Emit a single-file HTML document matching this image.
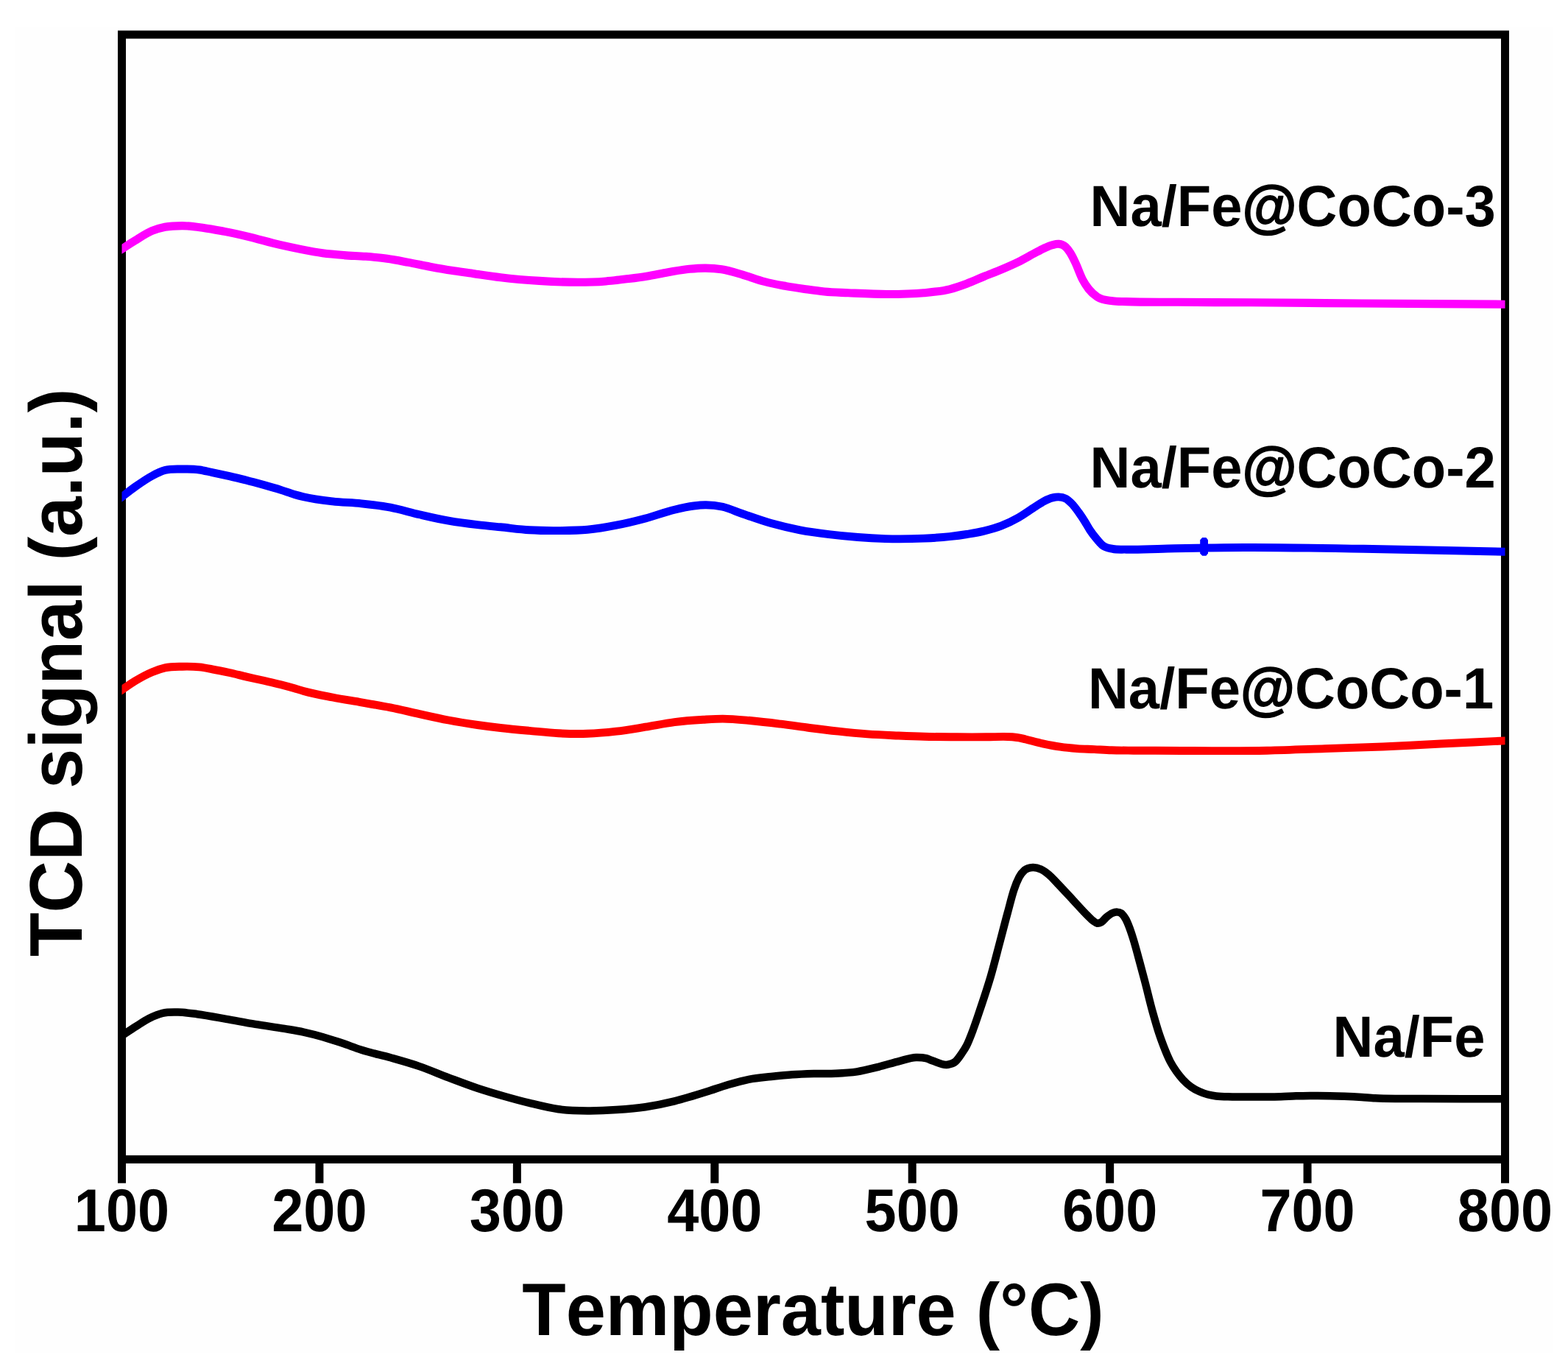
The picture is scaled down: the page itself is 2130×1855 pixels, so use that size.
<!DOCTYPE html>
<html lang="en"><head><meta charset="utf-8"><title>TCD signal vs Temperature</title>
<style>html,body{margin:0;padding:0;background:#fff}body{width:2130px;height:1855px;overflow:hidden}svg{display:block}text{font-family:"Liberation Sans", Arial, Helvetica, sans-serif;font-weight:bold;fill:#000;font-kerning:none;font-variant-ligatures:none;text-rendering:geometricPrecision}</style></head><body>
<svg width="2130" height="1855" viewBox="0 0 2130 1855">
<defs><clipPath id="plot"><rect x="165.5" y="41.5" width="1879.0" height="1538.4"/></clipPath></defs>
<rect width="2130" height="1855" fill="#fff"/>
<rect x="21" y="36" width="2089" height="1801" fill="#fefefe"/>
<rect x="165.5" y="47" width="1879.0" height="1527.4" fill="none" stroke="#000" stroke-width="11"/>
<rect x="160.00" y="1574.4" width="11" height="32.3" fill="#000"/>
<rect x="428.43" y="1574.4" width="11" height="32.3" fill="#000"/>
<rect x="696.86" y="1574.4" width="11" height="32.3" fill="#000"/>
<rect x="965.29" y="1574.4" width="11" height="32.3" fill="#000"/>
<rect x="1233.71" y="1574.4" width="11" height="32.3" fill="#000"/>
<rect x="1502.14" y="1574.4" width="11" height="32.3" fill="#000"/>
<rect x="1770.57" y="1574.4" width="11" height="32.3" fill="#000"/>
<rect x="2039.00" y="1574.4" width="11" height="32.3" fill="#000"/>
<g clip-path="url(#plot)" fill="none" stroke-linejoin="round">
<path d="M157.5,1411.8C160.2,1410.0 162.8,1408.3 165.5,1406.5C171.7,1402.4 177.8,1398.2 184.0,1394.3C190.2,1390.4 196.3,1386.1 202.5,1383.0C208.6,1380.0 214.7,1377.3 220.8,1375.9C227.8,1374.2 234.8,1374.5 241.8,1374.6C250.5,1374.7 259.3,1376.1 268.0,1377.2C281.1,1378.9 294.3,1381.5 307.4,1383.8C320.5,1386.1 333.7,1388.7 346.8,1390.9C359.9,1393.1 373.1,1394.7 386.2,1396.9C394.9,1398.4 403.7,1399.7 412.4,1401.6C421.1,1403.5 429.9,1405.7 438.6,1408.2C447.4,1410.7 456.1,1413.7 464.9,1416.6C473.6,1419.5 482.3,1423.0 491.0,1425.8C504.2,1430.0 517.3,1432.6 530.5,1436.3C543.6,1440.0 556.7,1443.6 569.8,1448.1C582.9,1452.6 596.1,1458.4 609.2,1463.3C622.3,1468.2 635.5,1473.3 648.6,1477.7C660.7,1481.7 672.9,1485.3 685.0,1488.7C696.5,1492.0 707.9,1495.1 719.4,1497.9C732.5,1501.1 745.6,1504.5 758.7,1506.3C771.8,1508.0 784.9,1508.3 798.0,1508.4C811.1,1508.5 824.3,1508.0 837.4,1507.1C850.5,1506.2 863.7,1505.2 876.8,1503.2C889.9,1501.2 903.1,1498.5 916.2,1495.3C930.8,1491.8 945.4,1487.2 960.0,1482.6C969.7,1479.6 979.5,1475.8 989.2,1473.0C998.9,1470.2 1008.6,1467.4 1018.3,1465.6C1028.0,1463.8 1037.8,1463.1 1047.5,1462.0C1057.2,1461.0 1066.9,1460.0 1076.6,1459.3C1086.3,1458.6 1096.1,1458.3 1105.8,1458.0C1115.5,1457.7 1125.2,1458.1 1134.9,1457.7C1144.6,1457.3 1154.4,1456.9 1164.1,1455.4C1173.8,1453.9 1183.6,1451.2 1193.3,1448.8C1203.0,1446.4 1212.7,1443.2 1222.4,1440.8C1229.7,1439.0 1237.0,1436.2 1244.3,1436.0C1248.9,1435.9 1253.4,1436.0 1258.0,1437.2C1261.0,1438.0 1264.0,1439.5 1267.0,1440.5C1273.7,1442.7 1280.3,1446.9 1287.0,1445.8C1290.7,1445.2 1294.3,1444.8 1298.0,1441.5C1300.8,1438.9 1303.7,1434.7 1306.5,1430.5C1308.7,1427.3 1310.8,1424.3 1313.0,1420.0C1316.0,1414.1 1319.0,1406.0 1322.0,1398.0C1325.7,1388.3 1329.3,1377.0 1333.0,1366.0C1337.3,1353.2 1341.5,1340.7 1345.8,1326.0C1349.6,1312.8 1353.5,1297.4 1357.3,1283.0C1361.2,1268.4 1365.0,1253.2 1368.9,1239.0C1371.8,1228.4 1374.6,1216.5 1377.5,1208.0C1379.8,1201.1 1382.2,1195.4 1384.5,1191.0C1387.0,1186.3 1389.5,1183.7 1392.0,1181.5C1395.7,1178.3 1399.3,1178.1 1403.0,1177.9C1406.7,1177.7 1410.3,1178.8 1414.0,1180.5C1417.7,1182.2 1421.3,1184.9 1425.0,1188.0C1428.8,1191.2 1432.5,1195.6 1436.3,1199.5C1443.7,1207.2 1451.2,1215.4 1458.6,1223.3C1464.7,1229.9 1470.9,1237.0 1477.0,1243.0C1479.7,1245.6 1482.3,1248.6 1485.0,1250.5C1486.8,1251.8 1488.7,1253.4 1490.5,1253.7C1492.3,1254.0 1494.2,1253.3 1496.0,1252.3C1498.3,1251.0 1500.7,1247.5 1503.0,1245.5C1505.7,1243.3 1508.3,1241.1 1511.0,1240.0C1513.3,1239.0 1515.7,1238.3 1518.0,1238.6C1520.0,1238.8 1522.0,1239.2 1524.0,1241.0C1525.8,1242.7 1527.7,1245.0 1529.5,1248.5C1531.0,1251.3 1532.5,1255.1 1534.0,1259.0C1536.0,1264.2 1538.0,1270.5 1540.0,1277.0C1542.5,1285.2 1545.0,1294.8 1547.5,1304.0C1550.0,1313.2 1552.5,1322.5 1555.0,1332.0C1558.7,1346.0 1562.3,1361.8 1566.0,1375.0C1568.7,1384.6 1571.3,1393.8 1574.0,1402.0C1576.3,1409.1 1578.7,1415.5 1581.0,1421.5C1583.9,1429.0 1586.8,1435.9 1589.7,1441.6C1592.5,1447.0 1595.2,1451.0 1598.0,1455.0C1601.0,1459.3 1604.0,1462.9 1607.0,1466.2C1610.7,1470.2 1614.3,1473.3 1618.0,1476.0C1621.8,1478.7 1625.5,1480.6 1629.3,1482.3C1633.0,1484.0 1636.7,1485.3 1640.4,1486.3C1644.3,1487.4 1648.1,1488.0 1652.0,1488.5C1659.3,1489.5 1666.7,1489.2 1674.0,1489.4C1686.0,1489.7 1698.0,1489.4 1710.0,1489.4C1720.0,1489.4 1730.0,1489.5 1740.0,1489.2C1746.9,1489.0 1753.7,1488.5 1760.6,1488.3C1770.4,1488.0 1780.2,1487.9 1790.0,1487.9C1802.1,1487.9 1814.1,1488.3 1826.2,1488.8C1834.1,1489.1 1842.1,1489.5 1850.0,1490.0C1856.0,1490.4 1862.0,1491.0 1868.0,1491.3C1878.7,1491.9 1889.3,1491.9 1900.0,1492.0C1910.3,1492.1 1920.7,1492.1 1931.0,1492.1C1968.8,1492.2 2006.7,1492.2 2044.5,1492.3C2047.2,1492.3 2049.8,1492.3 2052.5,1492.3" stroke="#000" stroke-width="10.5"/>
<path d="M157.5,942.3C160.2,940.5 162.8,938.7 165.5,936.9C171.4,932.9 177.4,928.5 183.3,924.9C191.1,920.2 198.8,915.9 206.6,912.7C212.4,910.3 218.3,908.2 224.1,906.9C231.9,905.2 239.7,905.4 247.5,905.2C255.3,905.0 263.0,905.1 270.8,905.9C276.6,906.5 282.5,907.7 288.3,908.8C296.1,910.2 303.8,911.8 311.6,913.5C319.4,915.2 327.1,917.3 334.9,919.1C342.7,920.9 350.5,922.5 358.3,924.3C366.1,926.1 373.8,927.8 381.6,929.8C387.7,931.4 393.9,933.1 400.0,934.8C404.1,936.0 408.3,937.3 412.4,938.4C425.5,942.0 438.7,944.4 451.8,947.0C464.9,949.6 477.9,951.5 491.0,953.8C504.2,956.1 517.3,958.3 530.5,960.9C543.6,963.5 556.7,966.8 569.8,969.6C582.9,972.5 596.1,975.5 609.2,978.0C622.3,980.5 635.5,982.6 648.6,984.5C659.1,986.0 669.5,987.3 680.0,988.5C693.1,990.0 706.3,991.2 719.4,992.4C732.5,993.6 745.6,995.1 758.7,995.8C771.8,996.4 784.9,996.7 798.0,996.3C811.1,995.9 824.3,994.7 837.4,993.2C850.5,991.7 863.7,989.3 876.8,987.2C889.9,985.1 903.1,982.3 916.2,980.6C929.3,978.9 942.4,978.0 955.5,977.2C964.3,976.7 973.0,976.1 981.8,976.1C994.9,976.1 1007.9,977.6 1021.0,978.8C1034.2,980.0 1047.3,981.6 1060.5,983.2C1073.6,984.8 1086.7,986.8 1099.8,988.5C1112.9,990.2 1126.1,991.8 1139.2,993.2C1152.3,994.6 1165.5,995.9 1178.6,996.9C1192.4,997.9 1206.2,998.4 1220.0,999.0C1231.7,999.5 1243.3,1000.0 1255.0,1000.3C1270.0,1000.7 1285.0,1000.7 1300.0,1000.8C1313.3,1000.9 1326.7,1000.8 1340.0,1000.8C1351.7,1000.8 1363.3,999.8 1375.0,1000.8C1378.0,1001.1 1381.0,1001.3 1384.0,1001.8C1387.1,1002.3 1390.2,1003.3 1393.3,1004.0C1401.1,1005.9 1408.8,1008.1 1416.6,1009.8C1424.4,1011.5 1432.2,1013.1 1440.0,1014.2C1447.8,1015.3 1455.5,1016.0 1463.3,1016.6C1471.1,1017.2 1478.8,1017.2 1486.6,1017.6C1494.4,1018.0 1502.2,1018.5 1510.0,1018.8C1520.0,1019.1 1530.0,1019.1 1540.0,1019.2C1549.9,1019.3 1559.9,1019.2 1569.8,1019.2C1620.3,1019.2 1670.7,1020.3 1721.2,1019.2C1747.5,1018.6 1773.7,1017.5 1800.0,1016.6C1826.2,1015.7 1852.4,1015.1 1878.6,1014.0C1904.9,1012.9 1931.1,1011.3 1957.4,1010.0C1986.4,1008.6 2015.5,1007.3 2044.5,1005.9C2047.2,1005.8 2049.8,1005.6 2052.5,1005.5" stroke="#f00" stroke-width="10.9"/>
<path d="M157.5,680.9C160.2,678.8 162.8,676.8 165.5,674.8C171.4,670.3 177.4,665.5 183.3,661.3C191.1,655.8 198.8,650.3 206.6,646.2C212.4,643.1 218.3,640.2 224.1,638.6C231.9,636.4 239.7,637.1 247.5,637.0C255.3,636.9 263.0,636.9 270.8,638.0C276.6,638.8 282.5,640.5 288.3,641.7C296.1,643.4 303.8,645.0 311.6,646.7C319.4,648.5 327.1,650.2 334.9,652.2C342.7,654.2 350.5,656.4 358.3,658.6C366.1,660.8 373.8,663.0 381.6,665.4C387.7,667.3 393.9,669.7 400.0,671.5C404.1,672.7 408.3,673.8 412.4,674.8C425.5,677.9 438.7,679.4 451.8,680.9C464.9,682.4 477.9,682.4 491.0,683.8C504.2,685.2 517.3,686.6 530.5,689.1C543.6,691.6 556.7,695.8 569.8,698.8C582.9,701.8 596.1,704.9 609.2,707.2C622.3,709.5 635.5,711.2 648.6,712.7C659.1,713.9 669.5,714.8 680.0,715.8C693.1,717.1 706.3,719.0 719.4,719.8C732.5,720.6 745.6,720.7 758.7,720.6C771.8,720.5 784.9,720.5 798.0,719.3C811.1,718.1 824.3,715.8 837.4,713.2C850.5,710.7 863.7,707.5 876.8,704.0C889.9,700.5 903.1,695.3 916.2,692.2C924.9,690.1 933.7,688.1 942.4,687.0C947.6,686.3 952.8,685.7 958.0,685.7C965.9,685.6 973.9,686.5 981.8,688.3C990.5,690.3 999.3,694.5 1008.0,697.5C1021.1,702.0 1034.3,706.9 1047.4,710.6C1060.5,714.3 1073.6,717.3 1086.7,719.8C1099.8,722.3 1112.9,724.0 1126.0,725.6C1139.1,727.2 1152.3,728.5 1165.4,729.5C1177.8,730.5 1190.1,731.2 1202.5,731.6C1220.0,732.1 1237.5,731.9 1255.0,731.1C1266.7,730.6 1278.3,730.0 1290.0,728.7C1297.8,727.8 1305.5,726.8 1313.3,725.5C1321.1,724.2 1328.8,723.0 1336.6,721.1C1344.4,719.2 1352.2,717.2 1360.0,714.2C1367.8,711.2 1375.5,707.4 1383.3,703.0C1391.1,698.6 1398.8,692.8 1406.6,687.9C1410.5,685.4 1414.4,682.6 1418.3,680.6C1422.2,678.6 1426.0,676.8 1429.9,675.9C1432.6,675.2 1435.4,674.8 1438.1,674.9C1441.2,675.0 1444.3,675.4 1447.4,677.0C1450.3,678.5 1453.1,681.1 1456.0,684.0C1459.2,687.3 1462.3,691.6 1465.5,696.0C1468.2,699.8 1471.0,703.9 1473.7,708.3C1476.0,712.0 1478.4,716.5 1480.7,720.0C1483.6,724.4 1486.5,728.1 1489.4,731.6C1492.1,734.9 1494.9,738.3 1497.6,740.5C1502.3,744.3 1506.9,744.4 1511.6,745.4C1517.7,746.7 1523.9,746.0 1530.0,746.2C1552.0,746.8 1574.0,745.2 1596.0,744.8C1627.3,744.2 1658.7,743.6 1690.0,743.5C1744.1,743.2 1798.3,744.5 1852.4,745.3C1916.4,746.3 1980.5,747.9 2044.5,749.2C2047.2,749.3 2049.8,749.3 2052.5,749.4" stroke="#00f" stroke-width="10.9"/>
<path d="M157.5,343.3C160.2,341.6 162.8,339.9 165.5,338.2C171.4,334.4 177.4,330.4 183.3,326.8C191.1,322.0 198.8,316.6 206.6,313.4C212.4,311.0 218.3,309.5 224.1,308.3C231.9,306.8 239.7,306.6 247.5,306.6C257.2,306.6 266.9,308.1 276.6,309.4C286.1,310.7 295.5,312.6 305.0,314.4C315.0,316.3 325.0,318.5 335.0,320.8C350.0,324.3 365.0,328.9 380.0,332.4C389.7,334.6 399.5,336.7 409.2,338.6C418.9,340.5 428.6,342.4 438.3,343.7C448.0,345.0 457.8,345.8 467.5,346.6C477.2,347.4 486.9,347.5 496.6,348.3C506.3,349.1 516.1,349.9 525.8,351.3C535.5,352.6 545.2,354.6 554.9,356.4C564.6,358.2 574.4,360.4 584.1,362.2C593.8,364.0 603.5,365.8 613.2,367.3C622.9,368.8 632.7,370.0 642.4,371.4C654.9,373.2 667.5,375.2 680.0,376.7C697.5,378.8 715.0,380.3 732.5,381.4C750.0,382.5 767.5,383.3 785.0,383.3C791.7,383.3 798.3,383.2 805.0,383.0C810.0,382.8 815.0,382.6 820.0,382.2C825.0,381.8 830.0,381.3 835.0,380.8C839.7,380.3 844.5,379.7 849.2,379.1C858.9,377.9 868.6,376.8 878.3,375.2C888.0,373.6 897.8,371.4 907.5,369.7C917.2,368.1 926.9,366.2 936.6,365.3C943.9,364.6 951.2,364.0 958.5,364.1C965.8,364.2 973.0,364.6 980.3,365.7C990.0,367.2 999.8,370.5 1009.5,373.3C1019.2,376.1 1028.9,380.0 1038.6,382.5C1048.3,385.1 1058.1,386.8 1067.8,388.6C1077.5,390.3 1087.2,391.6 1096.9,393.0C1104.6,394.1 1112.3,395.2 1120.0,396.0C1130.8,397.1 1141.5,397.2 1152.3,397.7C1169.8,398.5 1187.3,399.5 1204.8,399.5C1221.5,399.5 1238.3,399.3 1255.0,397.7C1266.7,396.6 1278.3,395.7 1290.0,392.8C1297.8,390.8 1305.5,388.1 1313.3,385.2C1321.1,382.3 1328.8,378.7 1336.6,375.5C1344.4,372.3 1352.2,369.5 1360.0,366.2C1367.8,362.9 1375.5,359.6 1383.3,355.8C1391.1,352.0 1398.8,347.3 1406.6,343.2C1410.5,341.1 1414.4,338.9 1418.3,337.1C1422.2,335.3 1426.0,333.6 1429.9,332.6C1432.6,331.9 1435.4,331.0 1438.1,331.3C1441.2,331.6 1444.3,332.3 1447.4,335.1C1449.6,337.1 1451.8,340.0 1454.0,343.5C1456.3,347.1 1458.5,351.9 1460.8,356.6C1464.1,363.6 1467.5,373.7 1470.8,380.0C1473.5,385.1 1476.2,389.0 1478.9,392.5C1482.8,397.5 1486.7,400.6 1490.6,403.3C1497.6,408.1 1504.6,407.7 1511.6,408.7C1517.7,409.6 1523.9,409.3 1530.0,409.6C1553.3,410.6 1576.7,410.1 1600.0,410.3C1633.3,410.6 1666.7,410.6 1700.0,410.8C1750.0,411.1 1800.0,411.6 1850.0,412.0C1914.8,412.5 1979.7,412.8 2044.5,413.2C2047.2,413.2 2049.8,413.2 2052.5,413.2" stroke="#f0f" stroke-width="11.1"/>
<path d="M1630.2,733.2 L1633.2,730 L1638.4,730 L1641,733.2 L1641,751.6 L1638.4,754.7 L1633.2,754.7 L1630.2,751.6 Z" fill="#00f" stroke="none"/>
</g>
<text transform="translate(165.50,1672.00) scale(0.9434,1)" font-size="82.15" text-anchor="middle">100</text>
<text transform="translate(433.93,1672.00) scale(0.9434,1)" font-size="82.15" text-anchor="middle">200</text>
<text transform="translate(702.36,1672.00) scale(0.9434,1)" font-size="82.15" text-anchor="middle">300</text>
<text transform="translate(970.79,1672.00) scale(0.9434,1)" font-size="82.15" text-anchor="middle">400</text>
<text transform="translate(1239.21,1672.00) scale(0.9434,1)" font-size="82.15" text-anchor="middle">500</text>
<text transform="translate(1507.64,1672.00) scale(0.9434,1)" font-size="82.15" text-anchor="middle">600</text>
<text transform="translate(1776.07,1672.00) scale(0.9434,1)" font-size="82.15" text-anchor="middle">700</text>
<text transform="translate(2044.50,1672.00) scale(0.9434,1)" font-size="82.15" text-anchor="middle">800</text>
<text transform="translate(1480.60,306.70) scale(0.9643,1)" font-size="78.81">Na/Fe<tspan stroke="#000" stroke-width="1.6" stroke-linejoin="round">@</tspan>CoCo-3</text>
<text transform="translate(1480.60,661.70) scale(0.9643,1)" font-size="78.81">Na/Fe<tspan stroke="#000" stroke-width="1.6" stroke-linejoin="round">@</tspan>CoCo-2</text>
<text transform="translate(1478.00,962.10) scale(0.9643,1)" font-size="78.81">Na/Fe<tspan stroke="#000" stroke-width="1.6" stroke-linejoin="round">@</tspan>CoCo-1</text>
<text transform="translate(1810.60,1435.00) scale(0.9643,1)" font-size="78.81">Na/Fe</text>
<text transform="translate(1104.50,1813.30) scale(0.9643,1)" font-size="100.90" text-anchor="middle">Temperature (°C)</text>
<text transform="translate(110.60,913.40) rotate(-90) scale(0.9643,1)" font-size="101.42" text-anchor="middle">TCD signal (a.u.)</text>
</svg></body></html>
